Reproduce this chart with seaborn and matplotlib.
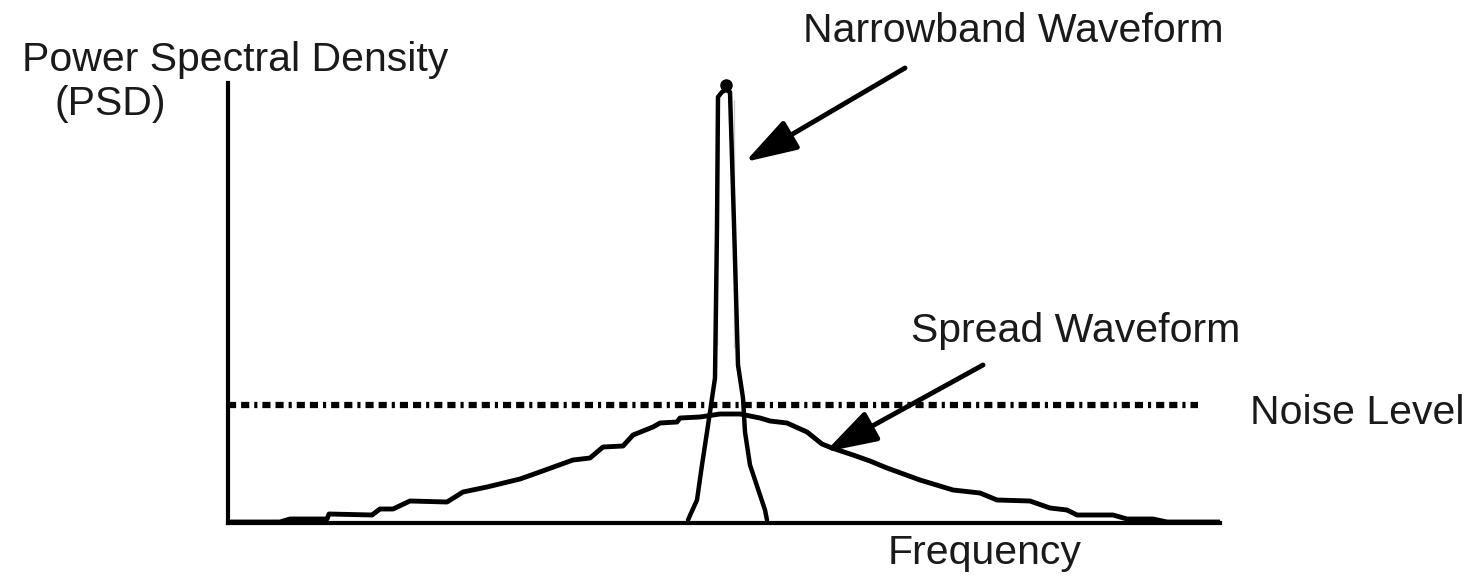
import numpy as np
import pandas as pd
import matplotlib
matplotlib.use('Agg')
import matplotlib.pyplot as plt
import seaborn as sns

sns.set_style('white')
plt.rcParams['font.family'] = ['Liberation Sans', 'DejaVu Sans']

# spread waveform (frequency, PSD)
spread_freq = [0, 52, 62, 99, 101, 144, 152, 165, 182, 219, 235, 259, 292, 309, 345, 362,
               375, 395, 405, 425, 432, 449, 452, 472, 492, 512, 532, 542, 559, 579, 594,
               604, 625, 642, 659, 692, 725, 752, 769, 802, 822, 839, 849, 885, 899, 925,
               939, 992]
spread_psd = [1, 1, 4, 4, 9, 8, 14, 14, 22, 21, 31, 36, 44, 50, 63, 65,
              76, 77, 88, 96, 100, 101, 105, 106, 109, 109, 105, 102, 100, 91, 79,
              75, 68, 62, 55, 43, 33, 30, 23, 22, 15, 13, 8, 8, 4, 4,
              1, 1]

# narrowband waveform
narrow_freq = [460, 464, 469, 474, 479, 482, 487, 489, 489, 490, 494, 498, 502, 506,
               506, 510, 515, 517, 522, 532, 537, 539]
narrow_psd = [3, 12, 23, 58, 91, 111, 145, 178, 413, 426, 431, 433, 431, 423,
              175, 158, 125, 91, 58, 28, 13, 3]
peak_freq, peak_psd = 498, 438

noise_level = 118
noise_span = [0, 970]

W, H = 1471, 576
fig = plt.figure(figsize=(W / 100, H / 100), dpi=100)
ax = fig.add_axes([228 / W, (H - 523) / H, (1220 - 228) / W, (523 - 83) / H])

df_s = pd.DataFrame({'f': spread_freq, 'p': spread_psd})
df_n = pd.DataFrame({'f': narrow_freq, 'p': narrow_psd})
sns.lineplot(data=df_s, x='f', y='p', ax=ax, color='black', lw=3.5, sort=False)
sns.lineplot(data=df_n, x='f', y='p', ax=ax, color='black', lw=3.2, sort=False)
ax.plot([peak_freq], [peak_psd], 'o', color='black', ms=8, zorder=5, clip_on=False)

ax.plot(noise_span, [noise_level, noise_level], color='black', lw=4.5,
        linestyle=(0, (1.3, 0.8, 1.3, 0.8, 0.5, 0.8)), dash_capstyle='butt')

ax.set_xlim(0, 992)
ax.set_ylim(0, 440)
ax.set_xticks([])
ax.set_yticks([])
ax.set_xlabel('')
ax.set_ylabel('')
for s in ['top', 'right']:
    ax.spines[s].set_visible(False)
for s in ['left', 'bottom']:
    ax.spines[s].set_linewidth(3)
    ax.spines[s].set_color('black')

arrow = dict(arrowstyle='-|>,head_length=1.6,head_width=0.5', lw=3.5, color='black',
             mutation_scale=20, shrinkA=0, shrinkB=0)
ax.annotate('', xy=(517, 361), xytext=(677, 455), arrowprops=arrow, annotation_clip=False)
ax.annotate('', xy=(597, 71), xytext=(755, 158), arrowprops=arrow, annotation_clip=False)

fs = 29.5
tc = '#1a1a1a'
def label(x, y, s):
    fig.text(x / W, 1 - y / H, s, fontsize=fs, color=tc, ha='center', va='center')

label(1013, 31, 'Narrowband Waveform')
label(235, 60, 'Power Spectral Density')
label(110, 104, '(PSD)')
label(1076, 331, 'Spread Waveform')
label(1357, 413, 'Noise Level')
label(985, 553, 'Frequency')

fig.savefig('out.png', dpi=100)
